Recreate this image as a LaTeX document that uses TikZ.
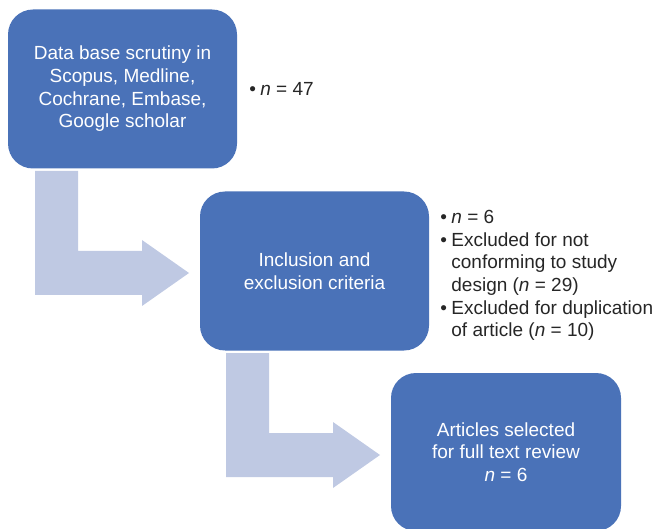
\documentclass[tikz,border=0pt]{standalone}
\usepackage{fontspec}
\setmainfont{Liberation Sans}
\usetikzlibrary{positioning}
\definecolor{kasten}{HTML}{4A72B8}
\definecolor{pfeil}{HTML}{BFC9E3}
\definecolor{schrift}{HTML}{262626}
\newcommand{\punkt}{\makebox[11pt][l]{\textbullet}}
\begin{document}
\begin{tikzpicture}[x=1pt, y=-1pt, every node/.style={font=\fontsize{19}{22.7}\selectfont},
	kastenbox/.style={rectangle, rounded corners=25pt, fill=kasten, text=white, align=center, minimum width=229pt, minimum height=159pt, inner sep=0pt},
	liste/.style={align=left, text=schrift, inner sep=0pt}]
	\useasboundingbox (0,0) rectangle (656,529);
	
	%Pfeile
	\foreach \dx/\dy in {0/0, 191/182} {
		\fill[pfeil] (35+\dx,171+\dy) -- (78+\dx,171+\dy) -- (78+\dx,251+\dy) -- (142+\dx,251+\dy) -- (142+\dx,240+\dy)
			-- (189+\dx,273+\dy) -- (142+\dx,306+\dy) -- (142+\dx,295+\dy) -- (35+\dx,295+\dy) -- cycle;
	}
	
	%Kaesten
	\node[kastenbox] (suche) at (122.5,89) {Data base scrutiny in\\Scopus, Medline,\\Cochrane, Embase,\\Google scholar};
	\node[kastenbox] (auswahl) at (314.5,271) {Inclusion and\\exclusion criteria};
	\node[kastenbox, minimum width=230pt, minimum height=158pt] (artikel) at (506,452) {Articles selected\\for full text review\\\textit{n} = 6};
	
	%Zahlen
	\node[liste, right=12pt of suche] (anzahl) {\punkt\textit{n} = 47};
	\node[liste, right=11pt of auswahl, yshift=-4.5pt] (ausschluss) {\punkt\textit{n} = 6\\
		\punkt Excluded for not\\
		\phantom{\punkt}conforming to study\\
		\phantom{\punkt}design (\textit{n} = 29)\\
		\punkt Excluded for duplication\\
		\phantom{\punkt}of article (\textit{n} = 10)};
\end{tikzpicture}
\end{document}
